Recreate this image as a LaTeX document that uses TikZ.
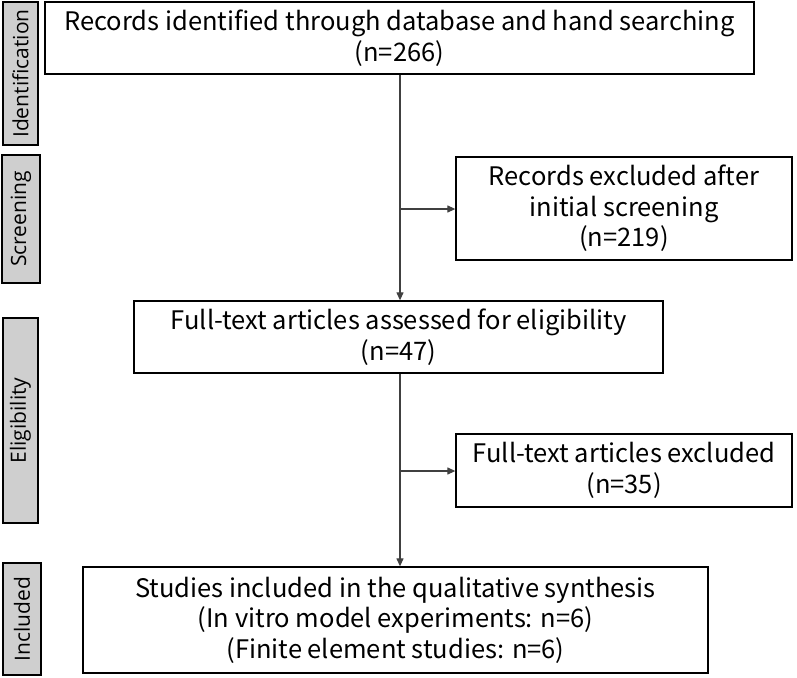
\documentclass[tikz,border=0pt]{standalone}
\usepackage{fontspec}
\setmainfont{Noto Sans CJK JP}
\newfontfamily\sidefont{Open Sans}
\usetikzlibrary{arrows.meta}
\begin{document}
\begin{tikzpicture}[x=1pt,y=-1pt,
  mainbox/.style={draw=black,line width=1.3pt,fill=white,align=center,inner sep=0pt,
    font={\fontsize{25.5}{30.5}\selectfont}},
  sidebox/.style={draw=black,line width=1.3pt,fill=black!19,inner sep=0pt,rotate=90,
    font={\sidefont\fontsize{21}{24}\selectfont}},
  conn/.style={draw=black!75,line width=1.2pt,-{Triangle[length=8pt,width=7pt]}}]
\useasboundingbox (0,0) rectangle (797,677);
% side labels
\node[sidebox,minimum width=143pt,minimum height=35pt] (sid) at (20.5,73.5) {Identification};
\node[sidebox,minimum width=128pt,minimum height=38pt] (sscr) at (21,219) {Screening};
\node[sidebox,minimum width=205pt,minimum height=35pt] (selg) at (20.5,420.5) {Eligibility};
\node[sidebox,minimum width=112pt,minimum height=38pt] (sinc) at (22,619) {Included};
% main boxes
\node[mainbox,minimum width=709pt,minimum height=72pt] (b1) at (399.5,38)
  {Records identified through database and hand searching\\(n=266)};
\node[mainbox,minimum width=336pt,minimum height=103pt] (b2) at (624,208.5)
  {Records excluded after\\initial screening\\(n=219)};
\node[mainbox,minimum width=529pt,minimum height=72pt] (b3) at (398.5,337)
  {Full-text articles assessed for eligibility\\(n=47)};
\node[mainbox,minimum width=336pt,minimum height=73pt] (b4) at (624,470.5)
  {Full-text articles excluded\\(n=35)};
\node[mainbox,minimum width=625pt,minimum height=106pt] (b5) at (395.5,620)
  {Studies included in the qualitative synthesis\\(In vitro model experiments: n=6)\\(Finite element studies: n=6)};
% connectors
\coordinate (j1) at (400,209);
\coordinate (j2) at (400,471);
\draw[conn] (b1.south -| j1) -- (b3.north -| j1);
\draw[conn] (b3.south -| j1) -- (b5.north -| j1);
\draw[conn] (j1) -- (b2.west |- j1);
\draw[conn] (j2) -- (b4.west |- j2);
\end{tikzpicture}
\end{document}
